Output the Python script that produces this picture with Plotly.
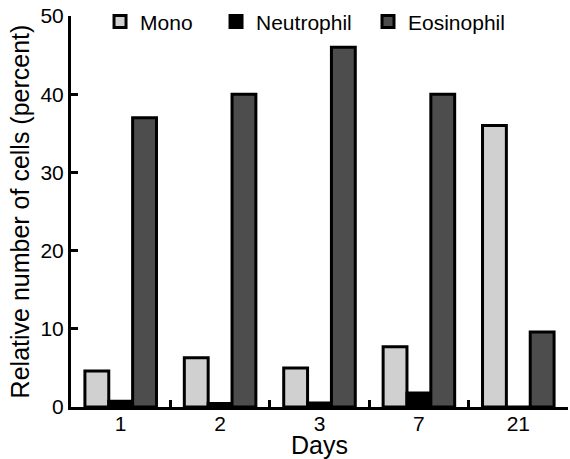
import plotly.graph_objects as go

days = ["1", "2", "3", "7", "21"]
mono = [4.6, 6.3, 5.0, 7.7, 36.0]
neutrophil = [0.75, 0.45, 0.5, 1.8, 0.0]
eosinophil = [37.0, 40.0, 46.0, 40.0, 9.6]

series = [
    ("Mono", mono, "#d0d0d0", "legend", 0.0584),
    ("Neutrophil", neutrophil, "#000000", "legend2", 0.2918),
    ("Eosinophil", eosinophil, "#4d4d4d", "legend3", 0.5976),
]

fig = go.Figure()
for name, vals, color, leg, _ in series:
    fig.add_trace(
        go.Bar(
            name=name,
            x=days,
            y=vals,
            legend=leg,
            showlegend=True,
            marker=dict(color=color, line=dict(color="black", width=3)),
        )
    )

leg_style = dict(
    orientation="h",
    y=0.985,
    xanchor="left",
    yanchor="middle",
    bgcolor="rgba(0,0,0,0)",
    font=dict(size=21),
)

fig.update_layout(
    width=570,
    height=459,
    showlegend=True,
    barmode="group",
    bargap=0.28,
    bargroupgap=0,
    plot_bgcolor="white",
    paper_bgcolor="white",
    font=dict(family="Liberation Sans, Arial, sans-serif", size=21, color="black"),
    margin=dict(l=71, r=2, t=16, b=52, autoexpand=False),
    legend=dict(x=series[0][4], **leg_style),
    legend2=dict(x=series[1][4], **leg_style),
    legend3=dict(x=series[2][4], **leg_style),
)
fig.update_xaxes(
    title=dict(text="Days", standoff=12),
    type="category",
    automargin=True,
    showline=True,
    linecolor="black",
    linewidth=3,
    ticks="inside",
    tickson="boundaries",
    ticklen=7,
    tickwidth=3,
    tickcolor="black",
    ticklabelstandoff=-4,
    showgrid=False,
)
fig.update_yaxes(
    title=dict(text="Relative number of cells (percent)", standoff=4),
    automargin=True,
    range=[0, 50],
    dtick=10,
    showline=True,
    linecolor="black",
    linewidth=3,
    ticks="inside",
    ticklen=7,
    tickwidth=3,
    tickcolor="black",
    showgrid=False,
    zeroline=False,
)

# page body has a default 8px margin; drop it so the figure sits at 0,0
fig.write_html(
    "out.html",
    config={"displayModeBar": False},
    post_script="document.body.style.margin='0';document.body.style.overflow='hidden';",
)
